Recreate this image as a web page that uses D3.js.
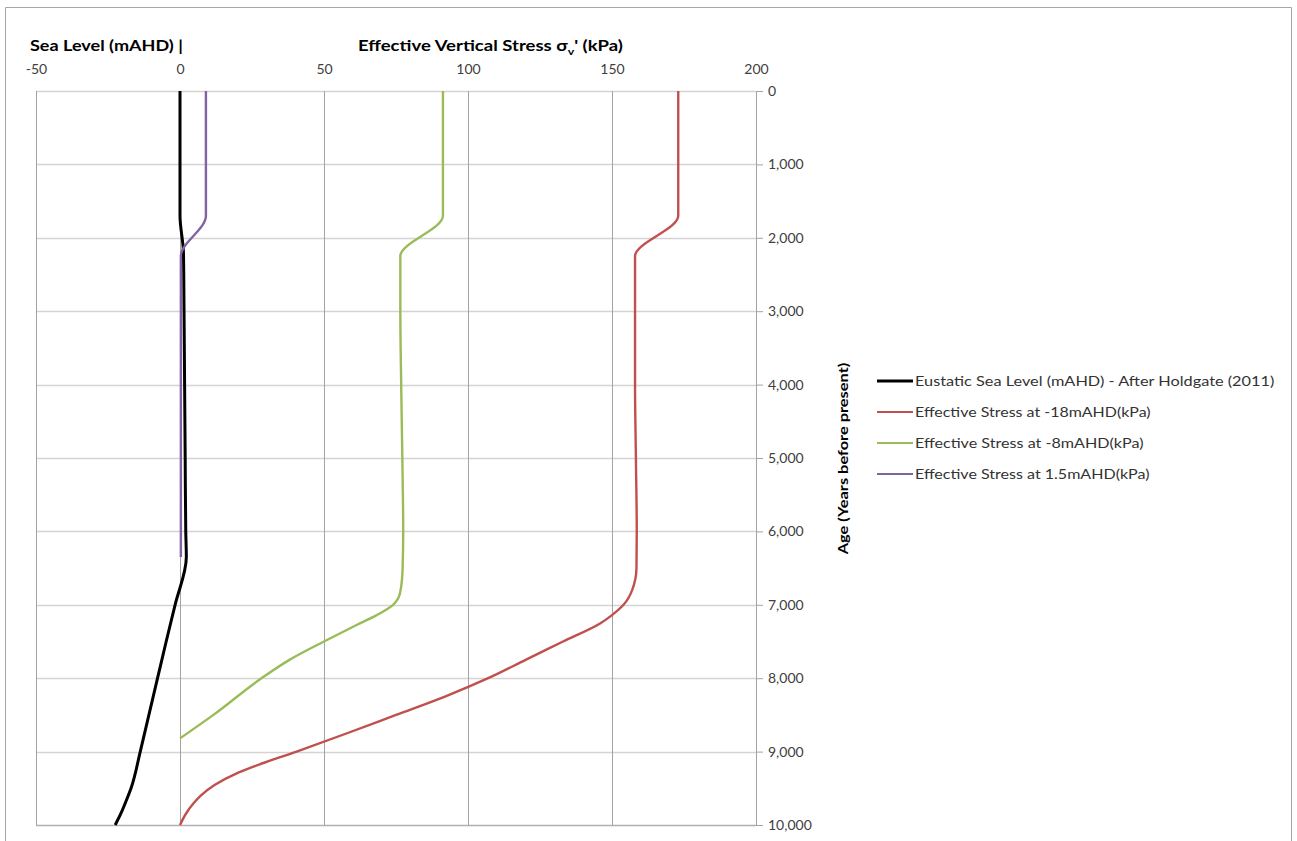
<!DOCTYPE html>
<html><head><meta charset="utf-8">
<script src="https://cdn.jsdelivr.net/npm/d3@7"></script>
<style>
html,body{margin:0;padding:0;background:#fff;}
svg{display:block;font-family:Lato,"Open Sans",sans-serif;}
</style></head>
<body>
<svg id="c" width="1297" height="841"></svg>
<script>
// ---- data ----
const xTicks = [-50, 0, 50, 100, 150, 200];
const ageTicks = [0,1000,2000,3000,4000,5000,6000,7000,8000,9000,10000];
const seriesNames = [
  "Eustatic Sea Level (mAHD)  - After Holdgate (2011)",
  "Effective Stress at -18mAHD(kPa)",
  "Effective Stress at -8mAHD(kPa)",
  "Effective Stress at 1.5mAHD(kPa)"
];
const seaAge = [0,1700,2200,3000,4000,5000,6000,6350,7000,7500,8000,8500,9000,9500,9700,9850,10000];
const seaVal = [0,0,1.2,1.4,1.6,1.8,2.0,2.2,-1.7,-4.8,-7.8,-10.8,-13.8,-17,-19,-20.6,-22.5];
const red18Age = [0,1700,2250,3000,4000,5000,6000,6500,6800,7000,7140,7250,7500,7750,8000,8250,8500,8750,9000,9205,9300,9455,9600,9705,9850,10000];
const red18Val = [173,173,158,158,158,158.3,158.6,158.5,157,154,150,146,133,120,107,92,75,58,40.5,25.5,19.5,12,7.2,4.7,2,0];
const grn8Age = [0,1700,2250,3000,4000,5000,6000,6500,6800,6900,7000,7140,7275,7500,7750,8015,8500,8820];
const grn8Val = [91.3,91.3,76.5,76.5,76.8,77.2,77.5,77.3,76.6,75.9,74,68.3,61.3,50,38,27.8,11.6,0];
const pur15Age = [0,1700,2250,3000,4000,5000,6000,6350];
const pur15Val = [9,9,0.3,0.3,0.3,0.3,0.3,0.3];
const colors = ["#000000","#c0504d","#9bbb59","#8064a2"];

// ---- chart ----
const svg = d3.select("#c");
const x = d3.scaleLinear().domain([-50,200]).range([36,756]);
const y = d3.scaleLinear().domain([0,10000]).range([91,825]);

function fitWidth(g, x0, y0, target){
  const w = g.node().getBBox().width;
  const s = target / w;
  g.attr("transform", `translate(${x0},${y0}) scale(${s},1)`);
}

// outer border
svg.append("path").attr("d","M5.5,845 V7.5 H1291.5 V845")
  .attr("fill","none").attr("stroke","#a6a6a6").attr("stroke-width",1);

// gridlines
svg.append("g").selectAll("line").data(ageTicks).join("line")
  .attr("x1",x(-50)).attr("x2",x(200))
  .attr("y1",d=>Math.round(y(d))+0.5).attr("y2",d=>Math.round(y(d))+0.5)
  .attr("stroke",d=>d===10000?"#b0b0b0":"#d4d4d4").attr("stroke-width",1.3);
svg.append("g").selectAll("line").data(xTicks.filter(d=>d<200)).join("line")
  .attr("x1",d=>Math.round(x(d))+0.5).attr("x2",d=>Math.round(x(d))+0.5)
  .attr("y1",y(0)).attr("y2",y(10000))
  .attr("stroke","#a3a3a3").attr("stroke-width",1);

// top axis
const topAx = svg.append("g").attr("transform",`translate(0,${y(0)})`)
  .call(d3.axisTop(x).tickValues(xTicks).tickFormat(d=>String(d)).tickSize(0).tickPadding(17));
topAx.select(".domain").remove();
topAx.selectAll("text").attr("font-size",14).attr("fill","#404040")
  .attr("font-family","Lato,'Open Sans',sans-serif");

// right axis
const rAx = svg.append("g").attr("transform",`translate(${x(200)},0)`)
  .call(d3.axisRight(y).tickValues(ageTicks).tickFormat(d3.format(",")).tickSize(7).tickSizeOuter(0).tickPadding(5));
rAx.select(".domain").attr("stroke","#a3a3a3");
rAx.selectAll(".tick line").attr("stroke","#a3a3a3");
rAx.selectAll("text").attr("font-size",14).attr("fill","#404040")
  .attr("font-family","Lato,'Open Sans',sans-serif");

// titles
const g1 = svg.append("g");
g1.append("text").attr("x",0).attr("y",0).attr("font-size",15).attr("font-weight","bold")
  .attr("fill","#000").text("Sea Level (mAHD) |");
fitWidth(g1, 30, 51, 153);

const g2 = svg.append("g");
const t2 = g2.append("text").attr("x",0).attr("y",0).attr("font-size",15).attr("font-weight","bold").attr("fill","#000");
t2.append("tspan").text("Effective Vertical Stress \u03C3");
t2.append("tspan").attr("font-size",10).attr("dy",4).text("v");
t2.append("tspan").attr("dy",-4).text("' (kPa)");
fitWidth(g2, 358, 51, 265);

const g3 = svg.append("g");
g3.append("text").attr("text-anchor","middle").attr("font-size",14).attr("font-weight","bold")
  .attr("fill","#000").text("Age (Years before present)");
{
  const w = g3.node().getBBox().width;
  g3.attr("transform",`translate(848,458.5) rotate(-90) scale(${193/w},1)`);
}

// lines
const series = [
  {age:seaAge, val:seaVal, w:3},
  {age:red18Age, val:red18Val, w:2.4},
  {age:grn8Age, val:grn8Val, w:2.4},
  {age:pur15Age, val:pur15Val, w:2.4}
];
const line = d3.line().x(d=>x(d[1])).y(d=>y(d[0])).curve(d3.curveMonotoneY);
series.forEach((s,i)=>{
  const pts = s.age.map((a,k)=>[a,s.val[k]]);
  svg.append("path").attr("d",line(pts)).attr("fill","none")
    .attr("stroke",colors[i]).attr("stroke-width",s.w).attr("stroke-linejoin","round");
});

// legend
const legendEnds = [1275, 1151, 1144, 1150];
seriesNames.forEach((n,i)=>{
  const yy = 381 + i*31;
  svg.append("line").attr("x1",877).attr("x2",913).attr("y1",yy).attr("y2",yy)
    .attr("stroke",colors[i]).attr("stroke-width",i===0?3:2);
  const g = svg.append("g");
  g.append("text").attr("x",0).attr("y",0).attr("font-size",14)
    .attr("fill","#333333").text(n);
  fitWidth(g, 915, yy+5, legendEnds[i]-915);
});
</script>
</body></html>
